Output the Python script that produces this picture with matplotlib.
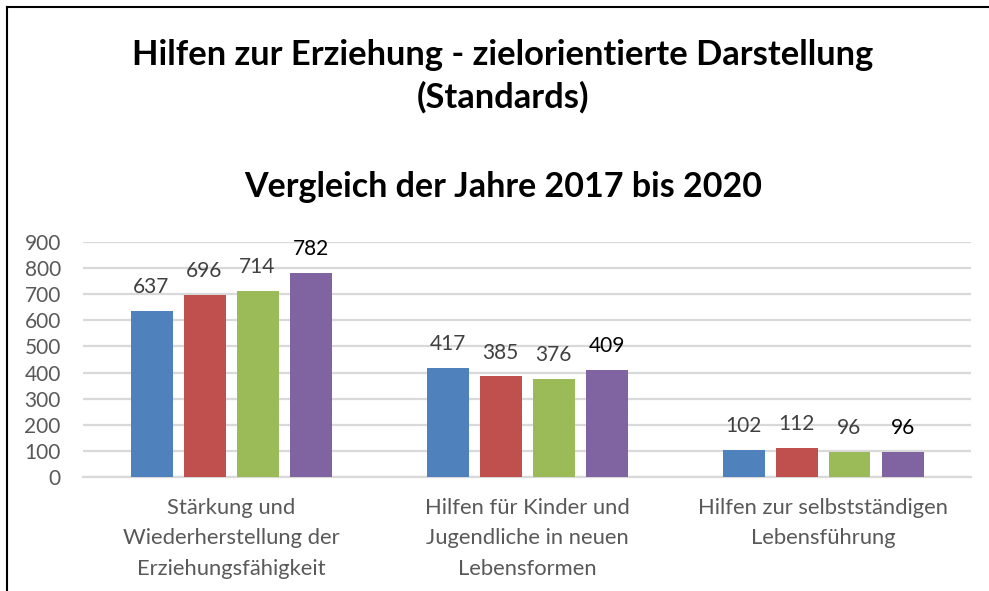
import matplotlib
matplotlib.use("Agg")
import matplotlib.pyplot as plt
import numpy as np
from matplotlib.lines import Line2D

categories = ["Stärkung und\nWiederherstellung der\nErziehungsfähigkeit",
              "Hilfen für Kinder und\nJugendliche in neuen\nLebensformen",
              "Hilfen zur selbstständigen\nLebensführung"]
years = ["2017", "2018", "2019", "2020"]
v2017 = [637, 417, 102]
v2018 = [696, 385, 112]
v2019 = [714, 376, 96]
v2020 = [782, 409, 96]
series = [v2017, v2018, v2019, v2020]
colors = ["#4f81bd", "#c0504d", "#9bbb59", "#8064a2"]
label_colors = ["#404040", "#404040", "#404040", "#000000"]
yticks = [0, 100, 200, 300, 400, 500, 600, 700, 800, 900]

plt.rcParams['font.family'] = ['Lato', 'DejaVu Sans']

fig = plt.figure(figsize=(9.89, 5.91), dpi=100)
ax = fig.add_axes([83/989, 1-477/591, 888/989, 235/591])

x = np.arange(len(categories))
bw = 42/296
step = 53/296
for i, (vals, c, lc) in enumerate(zip(series, colors, label_colors)):
    off = (i - 1.5) * step
    ax.bar(x + off, vals, width=bw, color=c, zorder=3)
    for xi, v in zip(x + off, vals):
        ax.annotate(str(v), (xi, v), xytext=(0, 10), textcoords="offset points",
                    ha="center", va="bottom", fontsize=15, color=lc, zorder=4)

ax.set_xlim(-0.5, 2.5)
ax.set_ylim(0, 900)
ax.set_yticks(yticks)
ax.set_yticklabels([str(t) for t in yticks], fontsize=15, color="#595959")
ax.set_xticks(x)
ax.set_xticklabels(categories, fontsize=15.8, color="#595959", linespacing=1.65)
ax.tick_params(axis="both", length=0)
ax.tick_params(axis="y", pad=16)
ax.tick_params(axis="x", pad=15)
ax.grid(axis="y", color="#d9d9d9", linewidth=1.6, zorder=0)
for s in ["top", "right", "left"]:
    ax.spines[s].set_visible(False)
ax.spines["bottom"].set_color("#d9d9d9")
ax.spines["bottom"].set_linewidth(1.6)
ax.spines["bottom"].set_zorder(1)

tx = 503/989
fig.text(tx, 1-55/591, "Hilfen zur Erziehung - zielorientierte Darstellung",
         ha="center", va="center", fontsize=24.8, fontweight="bold", color="black")
fig.text(tx, 1-97/591, "(Standards)",
         ha="center", va="center", fontsize=24.8, fontweight="bold", color="black")
fig.text(tx, 1-187/591, "Vergleich der Jahre 2017 bis 2020",
         ha="center", va="center", fontsize=24.5, fontweight="bold", color="black")

fig.add_artist(Line2D([7/989, 7/989], [0, 1-7/591], transform=fig.transFigure,
                      color="black", linewidth=1.5))
fig.add_artist(Line2D([7/989, 1], [1-7/591, 1-7/591], transform=fig.transFigure,
                      color="black", linewidth=1.5))

fig.savefig("out.png", dpi=100)
